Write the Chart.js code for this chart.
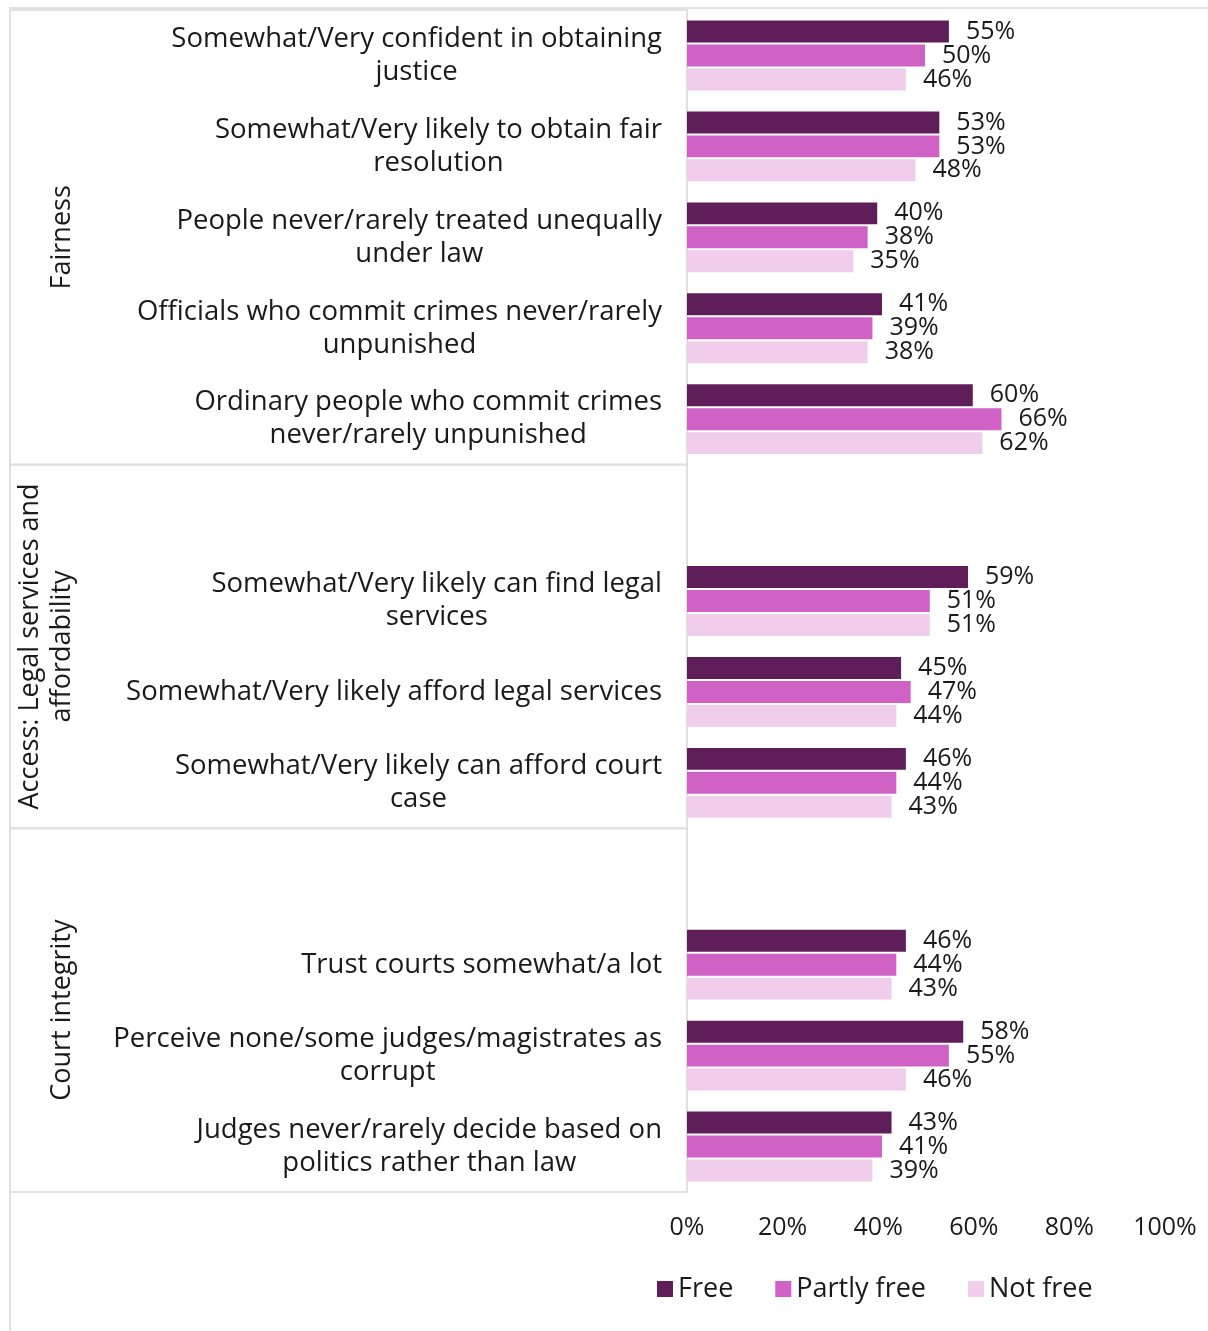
<!DOCTYPE html>
<html>
<head>
<meta charset="utf-8">
<script src="https://cdn.jsdelivr.net/npm/chart.js@4.4.1/dist/chart.umd.min.js"></script>
<style>
  body { margin: 0; background: #fff; }
  #wrap { width: 1208px; height: 1331px; }
</style>
</head>
<body>
<div id="wrap"><canvas id="grafico"></canvas></div>
<script>
// categories (top to bottom), "" = empty slot at the top of a group
const categorias = [
  ["Somewhat/Very confident in obtaining", "justice"],
  ["Somewhat/Very likely to obtain fair", "resolution"],
  ["People never/rarely treated unequally", "under law"],
  ["Officials who commit crimes never/rarely", "unpunished"],
  ["Ordinary people who commit crimes", "never/rarely unpunished"],
  "",
  ["Somewhat/Very likely can find legal", "services"],
  "Somewhat/Very likely afford legal services",
  ["Somewhat/Very likely can afford court", "case"],
  "",
  "Trust courts somewhat/a lot",
  ["Perceive none/some judges/magistrates as", "corrupt"],
  ["Judges never/rarely decide based on", "politics rather than law"]
];

const free       = [55, 53, 40, 41, 60, null, 59, 45, 46, null, 46, 58, 43];
const partlyFree = [50, 53, 38, 39, 66, null, 51, 47, 44, null, 44, 55, 41];
const notFree    = [46, 48, 35, 38, 62, null, 51, 44, 43, null, 43, 46, 39];

const series = ["Free", "Partly free", "Not free"];
const cores = ["#5f1e5a", "#d061c5", "#f0cdeb"];

const ticksX = [0, 20, 40, 60, 80, 100];

// group boxes: category index range
const grupos = [
  { nome: ["Fairness"], de: 0, ate: 4 },
  { nome: ["Access: Legal services and", "affordability"], de: 5, ate: 8 },
  { nome: ["Court integrity"], de: 9, ate: 12 }
];

const FONTE = "'Open Sans', 'DejaVu Sans', sans-serif";
const COR_TEXTO = "#1a1a1a";

const extras = {
  id: "extras",
  beforeDraw(chart) {
    const { ctx, chartArea, scales: { y } } = chart;
    const slot = y.getPixelForValue(1) - y.getPixelForValue(0);
    ctx.save();
    ctx.strokeStyle = "#e0e0e0";
    ctx.lineWidth = 2;
    ctx.beginPath();
    ctx.moveTo(10, chart.height);
    ctx.lineTo(10, 8);
    ctx.lineTo(chart.width, 8);
    ctx.stroke();

    grupos.forEach(g => {
      const top = y.getPixelForValue(g.de) - slot / 2;
      const bottom = y.getPixelForValue(g.ate) + slot / 2;
      ctx.strokeRect(10, top, chartArea.left - 10, bottom - top);

      ctx.save();
      ctx.translate(62, (top + bottom) / 2);
      ctx.rotate(-Math.PI / 2);
      ctx.fillStyle = COR_TEXTO;
      ctx.font = "27px " + FONTE;
      ctx.textAlign = "center";
      ctx.textBaseline = "middle";
      const n = g.nome.length;
      g.nome.forEach((linha, j) => {
        ctx.fillText(linha, 0, (j - (n - 1)) * 32);
      });
      ctx.restore();
    });

    // category labels, lines centred on the widest line
    ctx.fillStyle = COR_TEXTO;
    ctx.font = "27.5px " + FONTE;
    ctx.textBaseline = "middle";
    ctx.textAlign = "center";
    categorias.forEach((cat, i) => {
      const linhas = Array.isArray(cat) ? cat : [cat];
      const largura = Math.max(...linhas.map(l => ctx.measureText(l).width));
      const cx = chartArea.left - 25 - largura / 2;
      const cy = y.getPixelForValue(i);
      linhas.forEach((l, j) => {
        ctx.fillText(l, cx, cy + (j - (linhas.length - 1) / 2) * 33);
      });
    });
    ctx.restore();
  },
  afterDatasetsDraw(chart) {
    const { ctx } = chart;
    ctx.save();
    ctx.fillStyle = COR_TEXTO;
    ctx.font = "25px " + FONTE;
    ctx.textAlign = "left";
    ctx.textBaseline = "middle";
    chart.data.datasets.forEach((ds, d) => {
      chart.getDatasetMeta(d).data.forEach((bar, i) => {
        if (ds.data[i] == null) return;
        ctx.fillText(ds.data[i] + "%", bar.x + 16, bar.y);
      });
    });

    // legend
    let x = chart.chartArea.left - 30;
    const yL = 1289;
    ctx.font = "27px " + FONTE;
    chart.data.datasets.forEach(ds => {
      ctx.fillStyle = ds.backgroundColor;
      ctx.fillRect(x, yL - 8, 16, 16);
      ctx.fillStyle = COR_TEXTO;
      ctx.fillText(ds.label, x + 21, yL);
      x += 21 + ctx.measureText(ds.label).width + 42;
    });
    ctx.restore();
  }
};

document.addEventListener("DOMContentLoaded", () => {
  const grafico = document.getElementById("grafico");

  new Chart(grafico, {
    type: "bar",
    data: {
      labels: categorias,
      datasets: [free, partlyFree, notFree].map((valores, k) => ({
        label: series[k],
        data: valores,
        backgroundColor: cores[k],
        borderColor: "rgba(255,255,255,0.35)",
        borderWidth: 1,
        categoryPercentage: 0.79,
        barPercentage: 1.0
      }))
    },
    options: {
      indexAxis: "y",
      responsive: true,
      maintainAspectRatio: false,
      animation: false,
      layout: { padding: { left: 10, top: 10, right: 43, bottom: 79 } },
      plugins: {
        legend: { display: false },
        tooltip: { enabled: false }
      },
      scales: {
        y: {
          grid: { display: false, drawTicks: false },
          border: { display: false },
          ticks: { display: false },
          afterFit(scale) { scale.width = 677; }
        },
        x: {
          min: 0,
          max: 100,
          grid: { display: false, drawTicks: false },
          border: { display: false },
          afterBuildTicks(scale) { scale.ticks = ticksX.map(v => ({ value: v })); },
          ticks: {
            padding: 21,
            color: COR_TEXTO,
            font: { size: 25, family: FONTE },
            callback: v => v + "%"
          },
          afterFit(scale) {
            scale.height = 60;
            scale.paddingLeft = 0;
            scale.paddingRight = 0;
          }
        }
      }
    },
    plugins: [extras]
  });
});
</script>
</body>
</html>
